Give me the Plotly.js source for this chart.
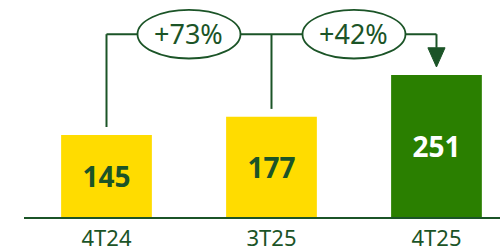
<!DOCTYPE html>
<html>
<head>
<meta charset="utf-8">
<script src="https://cdn.plot.ly/plotly-3.0.1.min.js"></script>
<style>html,body{margin:0;padding:0;background:#fff;}#chart{width:500px;height:250px;}</style>
</head>
<body>
<div id="chart"></div>
<script>
const categories = ["4T24", "3T25", "4T25"];
const values = [145, 177, 251];
const growthLabels = ["+73%", "+42%"];

const DARK = "#1b5427";
const barColors = ["#FFDC00", "#FFDC00", "#2A7F00"];
const textColors = [DARK, DARK, "#FFFFFF"];

const gap = 14;          // space between bar top and connector end (data units)
const bracketY = 323;    // connector level (data units)
const ellHalfW = 0.312, ellHalfH = 43;
const lineStyle = {color: DARK, width: 2};

const xs = categories.map((c, i) => i);
const shapes = [];
shapes.push({type: "line", xref: "x", yref: "y", x0: 0, x1: 0, y0: values[0] + gap, y1: bracketY, line: lineStyle});
shapes.push({type: "line", xref: "x", yref: "y", x0: 1, x1: 1, y0: values[1] + gap, y1: bracketY, line: lineStyle});
shapes.push({type: "line", xref: "x", yref: "y", x0: 0, x1: 2, y0: bracketY, y1: bracketY, line: lineStyle});
const arrowTip = values[2] + gap, arrowTop = arrowTip + 34;
shapes.push({type: "line", xref: "x", yref: "y", x0: 2, x1: 2, y0: bracketY, y1: arrowTop, line: lineStyle});
shapes.push({type: "path", xref: "x", yref: "y",
  path: `M ${2 - 0.052} ${arrowTop} L ${2 + 0.052} ${arrowTop} L 2 ${arrowTip} Z`,
  fillcolor: DARK, line: {color: DARK, width: 1}});
const annotations = [];
growthLabels.forEach((g, i) => {
  const cx = i + 0.5;
  shapes.push({type: "circle", xref: "x", yref: "y",
    x0: cx - ellHalfW, x1: cx + ellHalfW, y0: bracketY - ellHalfH, y1: bracketY + ellHalfH,
    fillcolor: "#FFFFFF", line: {color: DARK, width: 1.8}});
  annotations.push({xref: "x", yref: "y", x: cx, y: bracketY, yshift: 1, text: g, showarrow: false,
    font: {family: "Noto Sans", size: 27, color: DARK}});
});

const trace = {
  type: "bar", x: xs, y: values,
  marker: {color: barColors, line: {width: 0}},
  width: 0.55,
  text: values.map(String),
  textposition: "inside",
  insidetextanchor: "middle",
  textangle: 0,
  textfont: {family: "Noto Sans", size: 28, color: textColors, weight: "bold"},
  hoverinfo: "none"
};

const layout = {
  width: 500, height: 250,
  margin: {l: 24, r: 0, t: 0, b: 33},
  paper_bgcolor: "#fff", plot_bgcolor: "#fff",
  showlegend: false,
  xaxis: {range: [-0.5, 2.385], tickvals: xs, ticktext: categories,
    showgrid: false, zeroline: false, showline: true, linecolor: DARK, linewidth: 2,
    ticks: "", ticklabelstandoff: 1, tickfont: {family: "Noto Sans", size: 22, color: DARK}, fixedrange: true},
  yaxis: {range: [0, 383.4], visible: false, fixedrange: true},
  shapes: shapes,
  annotations: annotations
};

Plotly.newPlot("chart", [trace], layout, {displayModeBar: false, staticPlot: true});
</script>
</body>
</html>
